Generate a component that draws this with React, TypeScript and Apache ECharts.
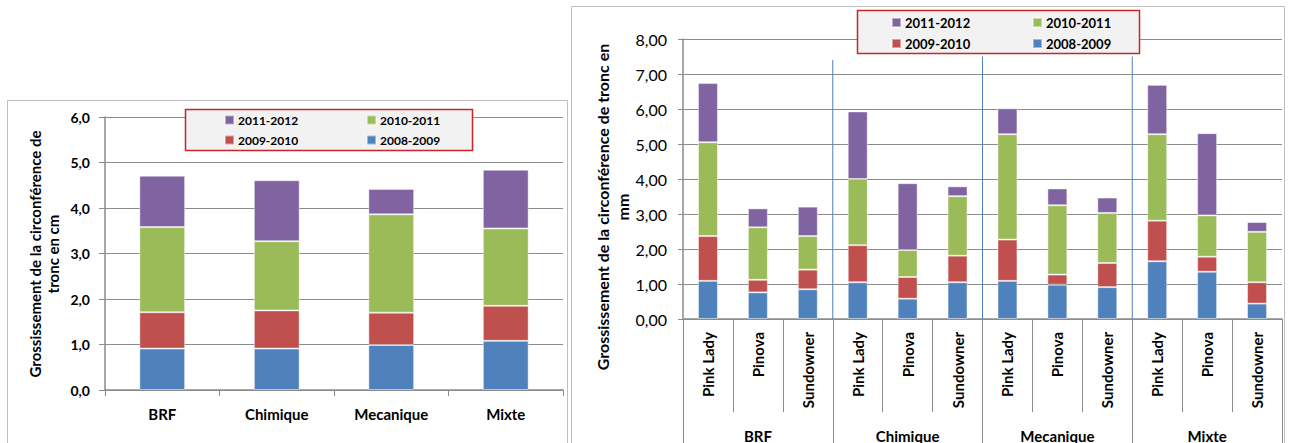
import React, { useEffect, useRef } from "react";
import * as echarts from "echarts";

// ---- Data ----
const seasons = ["2008-2009", "2009-2010", "2010-2011", "2011-2012"];
const legendOrder = ["2011-2012", "2010-2011", "2009-2010", "2008-2009"];
const seasonColors = ["#4f81bd", "#c0504d", "#9bbb59", "#8064a2"];

// Left chart (cm)
const leftCategories = ["BRF", "Chimique", "Mecanique", "Mixte"];
const left0809 = [0.91, 0.91, 0.99, 1.08];
const left0910 = [0.8, 0.84, 0.71, 0.77];
const left1011 = [1.87, 1.52, 2.16, 1.7];
const left1112 = [1.13, 1.34, 0.56, 1.29];
const leftTicks = [0, 6, 1];

// Right chart (mm)
const groups = ["BRF", "Chimique", "Mecanique", "Mixte"];
const varieties = ["Pink Lady", "Pinova", "Sundowner"];
const right0809 = [1.09, 0.76, 0.85, 1.05, 0.58, 1.05, 1.09, 0.98, 0.91, 1.65, 1.35, 0.44];
const right0910 = [1.28, 0.36, 0.56, 1.06, 0.62, 0.76, 1.18, 0.29, 0.69, 1.16, 0.43, 0.61];
const right1011 = [2.68, 1.5, 0.96, 1.89, 0.77, 1.7, 3.01, 1.98, 1.43, 2.47, 1.18, 1.44];
const right1112 = [1.69, 0.54, 0.84, 1.93, 1.91, 0.28, 0.74, 0.48, 0.44, 1.41, 2.35, 0.28];
const rightTicks = [0, 8, 1];
// group separator lines: [position in sub-category units, top value]
const separators = [
  [3, 7.4],
  [6, 7.5],
  [9, 7.5],
];

const leftTitle = "Grossissement de la circonférence de\ntronc en cm";
const rightTitle = "Grossissement de la circonférence de tronc en\nmm";

const FONT = "Lato";
const GRID_GRAY = "#8c8c8c";

export default function App() {
  const ref = useRef<HTMLDivElement>(null);

  useEffect(() => {
    if (!ref.current) return;
    const chart = echarts.init(ref.current, undefined, { renderer: "svg" });

    const subCats: string[] = [];
    groups.forEach(() => varieties.forEach((v) => subCats.push(v)));

    const leftData = [left0809, left0910, left1011, left1112];
    const rightData = [right0809, right0910, right1011, right1112];

    const barStyle = (i: number) => ({
      color: seasonColors[i],
      borderColor: "rgba(255,255,255,0.45)",
      borderWidth: 1,
    });

    const series: any[] = [];
    seasons.forEach((s, i) => {
      series.push({
        type: "bar",
        name: s,
        stack: "L",
        xAxisIndex: 0,
        yAxisIndex: 0,
        barWidth: "40%",
        itemStyle: barStyle(i),
        data: leftData[i],
      });
    });
    seasons.forEach((s, i) => {
      series.push({
        type: "bar",
        name: s,
        stack: "R",
        xAxisIndex: 1,
        yAxisIndex: 1,
        barWidth: "40%",
        itemStyle: barStyle(i),
        data: rightData[i],
      });
    });
    series.push({
      type: "custom",
      xAxisIndex: 3,
      yAxisIndex: 1,
      z: 3,
      silent: true,
      data: separators,
      renderItem: (params: any, api: any) => {
        const x = api.value(0);
        const top = api.coord([x, api.value(1)]);
        const bot = api.coord([x, 0]);
        return {
          type: "line",
          shape: { x1: top[0], y1: top[1], x2: bot[0], y2: bot[1] },
          style: { stroke: "#4f81bd", lineWidth: 1 },
        };
      },
    });

    const legendPos = [
      // left chart
      { x: 224, y: 114, size: 12 },
      { x: 366, y: 114, size: 12 },
      { x: 224, y: 134, size: 12 },
      { x: 366, y: 134, size: 12 },
      // right chart
      { x: 891, y: 16, size: 13 },
      { x: 1032, y: 16, size: 13 },
      { x: 891, y: 37, size: 13 },
      { x: 1032, y: 37, size: 13 },
    ];
    const legends = legendPos.map((p, k) => ({
      show: true,
      left: p.x,
      top: p.y,
      padding: 0,
      z: 10,
      selectedMode: false,
      icon: "rect",
      itemWidth: 9,
      itemHeight: 9,
      data: [legendOrder[k % 4]],
      textStyle: { fontFamily: FONT, fontWeight: "bold", fontSize: p.size, color: "#000", padding: [0, 0, 0, -1] },
    }));

    const yLabel = (digits: number, bold: boolean, size: number, margin: number) => ({
      fontFamily: FONT,
      fontWeight: bold ? "bold" : "normal",
      fontSize: size,
      color: "#000",
      margin,
      formatter: (v: number) => v.toFixed(digits).replace(".", ","),
    });

    chart.setOption({
      animation: false,
      backgroundColor: "#fff",
      graphic: [
        {
          type: "rect",
          z: 1,
          shape: { x: 7.5, y: 100.5, width: 560, height: 400 },
          style: { fill: "none", stroke: "#bfbfbf", lineWidth: 1 },
        },
        {
          type: "rect",
          z: 1,
          shape: { x: 571.5, y: 6.5, width: 713, height: 500 },
          style: { fill: "none", stroke: "#bfbfbf", lineWidth: 1 },
        },
        {
          type: "rect",
          z: 5,
          shape: { x: 185.5, y: 109.5, width: 287, height: 41 },
          style: { fill: "#f2f2f2", stroke: "#c8262b", lineWidth: 1.5 },
        },
        {
          type: "rect",
          z: 5,
          shape: { x: 857.5, y: 10.5, width: 282, height: 43 },
          style: { fill: "#f2f2f2", stroke: "#c8262b", lineWidth: 1.5 },
        },
        {
          type: "text",
          z: 5,
          x: 44,
          y: 254,
          rotation: Math.PI / 2,
          style: {
            text: leftTitle,
            fontFamily: FONT,
            fontWeight: "bold",
            fontSize: 15,
            lineHeight: 18,
            fill: "#000",
            align: "center",
            verticalAlign: "middle",
          },
        },
        {
          type: "text",
          z: 5,
          x: 612,
          y: 207,
          rotation: Math.PI / 2,
          style: {
            text: rightTitle,
            fontFamily: FONT,
            fontWeight: "bold",
            fontSize: 16,
            lineHeight: 20,
            fill: "#000",
            align: "center",
            verticalAlign: "middle",
          },
        },
      ],
      legend: legends,
      grid: [
        { left: 105, right: 1289 - 563, top: 117, bottom: 443 - 390 },
        { left: 683, right: 1289 - 1282, top: 39, bottom: 443 - 319 },
      ],
      xAxis: [
        {
          type: "category",
          gridIndex: 0,
          data: leftCategories,
          axisLine: { lineStyle: { color: GRID_GRAY, width: 1.5 } },
          axisTick: { show: true, length: 6, lineStyle: { color: GRID_GRAY } },
          axisLabel: { fontFamily: FONT, fontWeight: "bold", fontSize: 15, color: "#000", margin: 16, interval: 0 },
        },
        {
          type: "category",
          gridIndex: 1,
          position: "bottom",
          data: subCats,
          axisLine: { lineStyle: { color: GRID_GRAY, width: 1.5 } },
          axisTick: { show: true, length: 93, interval: 0, lineStyle: { color: GRID_GRAY } },
          axisLabel: {
            fontFamily: FONT,
            fontWeight: "bold",
            fontSize: 15,
            color: "#000",
            rotate: 90,
            margin: 13,
            interval: 0,
          },
        },
        {
          type: "category",
          gridIndex: 1,
          position: "bottom",
          offset: 93,
          data: groups,
          axisLine: { show: false, onZero: false },
          axisTick: { show: true, length: 40, interval: 0, lineStyle: { color: GRID_GRAY } },
          axisLabel: { fontFamily: FONT, fontWeight: "bold", fontSize: 15, color: "#000", margin: 16, interval: 0 },
        },
        {
          type: "value",
          gridIndex: 1,
          position: "top",
          min: 0,
          max: subCats.length,
          show: false,
        },
      ],
      yAxis: [
        {
          type: "value",
          gridIndex: 0,
          min: leftTicks[0],
          max: leftTicks[1],
          interval: leftTicks[2],
          axisLine: { show: true, onZero: false, lineStyle: { color: GRID_GRAY, width: 1.5 } },
          axisTick: { show: true, length: 6, lineStyle: { color: GRID_GRAY } },
          splitLine: { show: true, lineStyle: { color: GRID_GRAY, width: 1 } },
          axisLabel: yLabel(1, true, 14, 15),
        },
        {
          type: "value",
          gridIndex: 1,
          min: rightTicks[0],
          max: rightTicks[1],
          interval: rightTicks[2],
          axisLine: { show: true, onZero: false, lineStyle: { color: GRID_GRAY, width: 1.5 } },
          axisTick: { show: true, length: 5, lineStyle: { color: GRID_GRAY } },
          splitLine: { show: true, lineStyle: { color: GRID_GRAY, width: 1 } },
          axisLabel: yLabel(2, false, 16, 16),
        },
      ],
      series,
    });

    return () => chart.dispose();
  }, []);

  return (
    <div
      ref={ref}
      style={{ position: "fixed", left: 0, top: 0, width: 1289, height: 443, background: "#fff" }}
    />
  );
}
